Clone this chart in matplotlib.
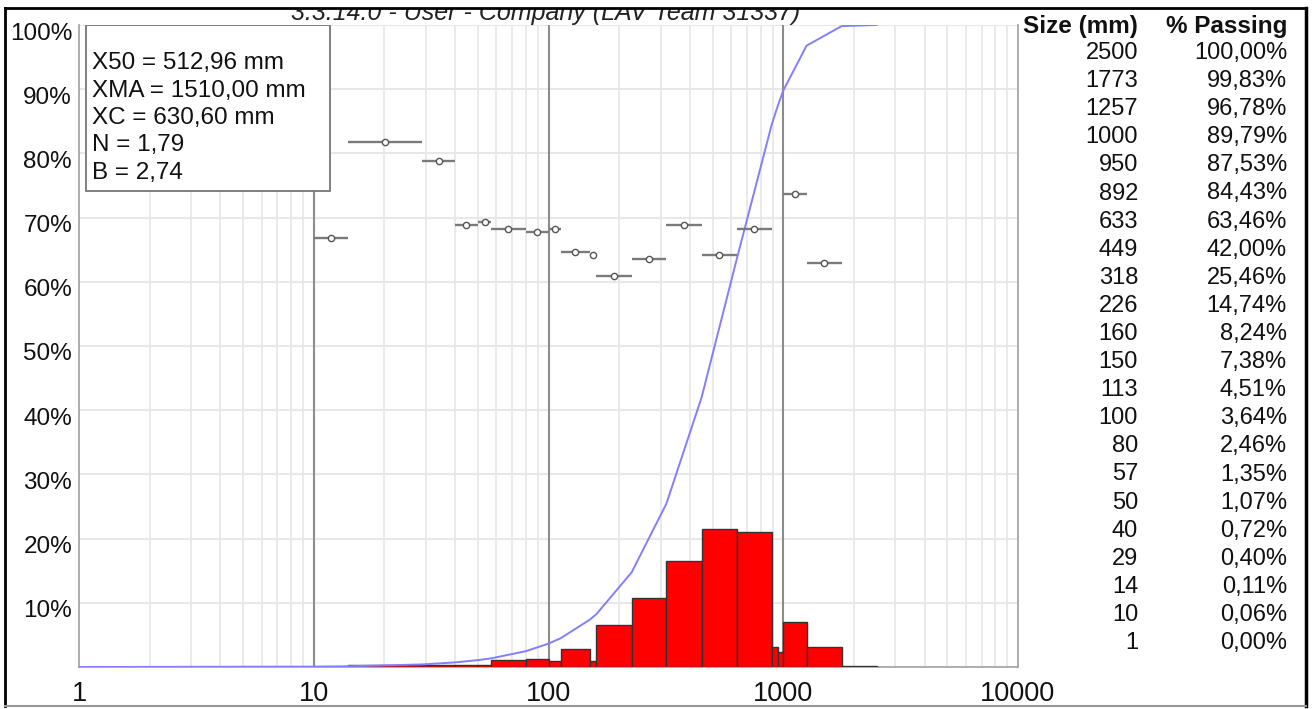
import numpy as np
import matplotlib
matplotlib.use("Agg")
import matplotlib.pyplot as plt
import matplotlib.transforms as mtransforms
from matplotlib.patches import Rectangle
from matplotlib.lines import Line2D

plt.rcParams['font.family'] = ['Liberation Sans', 'DejaVu Sans']

# sieve table: size (mm) and cumulative % passing
sizes = [2500, 1773, 1257, 1000, 950, 892, 633, 449, 318, 226, 160, 150,
         113, 100, 80, 57, 50, 40, 29, 14, 10, 1]
passing = [100.00, 99.83, 96.78, 89.79, 87.53, 84.43, 63.46, 42.00, 25.46,
           14.74, 8.24, 7.38, 4.51, 3.64, 2.46, 1.35, 1.07, 0.72, 0.40,
           0.11, 0.06, 0.00]

# per-class points with their class range
point_lo = [10, 14, 29, 40, 50, 57, 80, 100, 113, 150, 160, 226, 318, 449,
            633, 1000, 1257]
point_hi = [14, 29, 40, 50, 57, 80, 100, 113, 150, 160, 226, 318, 449, 633,
            892, 1257, 1773]
point_val = [66.8, 81.8, 78.8, 68.9, 69.3, 68.2, 67.7, 68.3, 64.6, 64.1,
             60.9, 63.5, 68.9, 64.2, 68.2, 73.7, 62.9]

stats_lines = ["X50 = 512,96 mm", "XMA = 1510,00 mm", "XC = 630,60 mm",
               "N = 1,79", "B = 2,74"]
title_txt = "3.3.14.0 - User - Company (LAV Team 31337)"
y_ticks = [10, 20, 30, 40, 50, 60, 70, 80, 90, 100]
x_ticks = [1, 10, 100, 1000, 10000]

W, H = 1314, 709
fig = plt.figure(figsize=(W / 100, H / 100), dpi=100)
ax = fig.add_axes([79 / W, 1 - 667 / H, 939 / W, 642 / H])

s_asc = np.array(sizes[::-1], dtype=float)
p_asc = np.array(passing[::-1], dtype=float)

# histogram of retained fractions between sieve sizes
ax.bar(s_asc[:-1], np.diff(p_asc), width=np.diff(s_asc), align='edge',
       color='#ff0000', edgecolor='#333333', linewidth=1.0, zorder=3)

# cumulative passing curve
ax.plot(s_asc, p_asc, color='#8080ff', lw=1.4, zorder=4)

# class points with horizontal range bars
lo = np.array(point_lo, dtype=float)
hi = np.array(point_hi, dtype=float)
ctr = np.sqrt(lo * hi)
ax.errorbar(ctr, point_val, xerr=[ctr - lo, hi - ctr], fmt='o', ms=4.5,
            mfc='white', mec='#555555', mew=1.0, ecolor='#7a7a7a',
            elinewidth=1.7, capsize=0, zorder=5)

ax.set_xscale('log')
ax.set_xlim(1, 10000)
ax.set_ylim(0, 100)

# grid
for d in [1, 10, 100, 1000]:
    for k in range(2, 10):
        ax.axvline(d * k, color='#e6e6e6', lw=1.2, zorder=1)
for d in [10, 100, 1000]:
    ax.axvline(d, color='#8c8c8c', lw=1.5, zorder=2)
for y in y_ticks:
    ax.axhline(y, color='#e8e8e8', lw=1.5, zorder=1)

for sp in ['left', 'right', 'bottom']:
    ax.spines[sp].set_color('#a0a0a0')
    ax.spines[sp].set_linewidth(1.2)
ax.spines['top'].set_visible(False)

ax.set_xticks(x_ticks)
ax.set_xticklabels([str(t) for t in x_ticks])
ax.xaxis.set_minor_locator(matplotlib.ticker.NullLocator())
ax.set_yticks(y_ticks)
ax.set_yticklabels([f"{t}%" for t in y_ticks])
ax.tick_params(axis='both', length=0, colors='#111111')
ax.tick_params(axis='x', pad=10, labelsize=19.5)
ax.tick_params(axis='y', pad=5, labelsize=17.5)
offset = mtransforms.ScaledTranslation(0, -0.06, fig.dpi_scale_trans)
for lab in ax.get_yticklabels():
    lab.set_transform(lab.get_transform() + offset)

# stats box
ax.add_patch(Rectangle((7 / 939, 1 - 166 / 642), 244 / 939, 166 / 642,
                       transform=ax.transAxes, facecolor='white',
                       edgecolor='#777777', lw=1.3, zorder=6))
for i, line in enumerate(stats_lines):
    ax.text(13 / 939, (667 - 63 - i * 27.5) / 642, line, transform=ax.transAxes,
            fontsize=17.5, va='center', ha='left', color='#111111', zorder=7)

# size / passing table on the right
fig.text(1138 / W, 1 - 27 / H, "Size (mm)", ha='right', va='center',
         fontsize=17.5, fontweight='bold', color='#111111')
fig.text(1287 / W, 1 - 27 / H, "% Passing", ha='right', va='center',
         fontsize=17.5, fontweight='bold', color='#111111')
for i, (s, p) in enumerate(zip(sizes, passing)):
    yy = 1 - (53 + i * 28.1) / H
    fig.text(1138 / W, yy, str(s), ha='right', va='center', fontsize=17,
             color='#111111')
    fig.text(1287 / W, yy, f"{p:.2f}".replace('.', ',') + '%', ha='right',
             va='center', fontsize=17, color='#111111')

# title, partly hidden under the top frame
fig.text(546 / W, 1 - 20 / H, title_txt, ha='center', va='baseline',
         fontsize=18, style='italic', color='#222222')
fig.patches.append(Rectangle((0, 1 - 8 / H), 1, 8 / H, transform=fig.transFigure,
                             facecolor='white', edgecolor='none', zorder=10))

# outer frame
fx0, fx1 = 5 / W, 1306 / W
fy0, fy1 = 1 - 706 / H, 1 - 8 / H
fig.lines.append(Line2D([fx0, fx1], [fy1, fy1], transform=fig.transFigure,
                        color='black', lw=2, zorder=11))
fig.lines.append(Line2D([fx0, fx0], [fy0, fy1], transform=fig.transFigure,
                        color='black', lw=2, zorder=11))
fig.lines.append(Line2D([fx1, fx1], [fy0, fy1], transform=fig.transFigure,
                        color='black', lw=2.5, zorder=11))
fig.lines.append(Line2D([fx0, fx1], [fy0, fy0], transform=fig.transFigure,
                        color='#999999', lw=1.5, zorder=11))

fig.savefig("out.png", dpi=100)
